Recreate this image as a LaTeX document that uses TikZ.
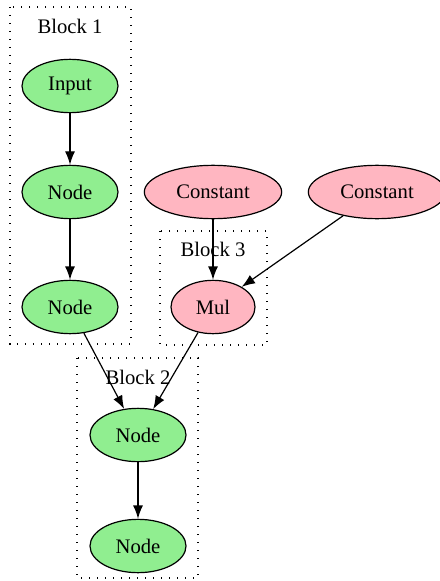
\documentclass[tikz,border=0pt]{standalone}
\usepackage{fontspec}
\setmainfont{Liberation Serif}
\usetikzlibrary{positioning, shapes.geometric, arrows.meta}

\definecolor{lightgreen}{HTML}{90EE90}
\definecolor{lightpink}{HTML}{FFB6C1}

\begin{document}
\begin{tikzpicture}[x=0.75pt, y=-0.75pt, node distance=80pt,
    font=\fontsize{15.5}{18}\selectfont]
% Define block styles
\tikzstyle{opnode} = [ellipse, draw, line width=0.9pt, fill=lightgreen,
    minimum width=72pt, minimum height=40pt, inner sep=0pt]
\tikzstyle{constnode} = [opnode, fill=lightpink, minimum width=103pt]
\tikzstyle{mulnode} = [opnode, fill=lightpink, minimum width=63pt]
\tikzstyle{cluster} = [draw, line width=0.9pt, dash pattern=on 0.9pt off 5.1pt]
\tikzstyle{line} = [draw, line width=0.9pt, -{Latex[length=10pt, width=7.5pt]}]
    \useasboundingbox (0,0) rectangle (439,581);
    % Clusters
    \draw [cluster] (10,7) rectangle (131,344);
    \draw [cluster] (160,231) rectangle (267,345);
    \draw [cluster] (77,358) rectangle (198,578);
    \node (lab1) at (70,26) {Block 1};
    \node (lab3) at (213,249) {Block 3};
    \node (lab2) at (138,377) {Block 2};
    % Place nodes
    \node [opnode] (input) at (70,86) {Input};
    \node [opnode, below of=input, node distance=79.5pt] (node1) {Node};
    \node [opnode, below of=node1, node distance=86.25pt] (node2) {Node};
    \node [constnode, right of=node1, node distance=107.25pt] (const1) {Constant};
    \node [constnode, right of=const1, node distance=123pt] (const2) {Constant};
    \node [mulnode, below of=const1, node distance=86.25pt] (mul) {Mul};
    \node [opnode] (node3) at (138,435) {Node};
    \node [opnode, below of=node3, node distance=83.25pt] (node4) {Node};
    % Edges
    \path [line] (input) -- (node1);
    \path [line] (node1) -- (node2);
    \path [line] (const1) -- (mul);
    \path [line] (const2) -- (mul);
    \path [line] (node2) -- (node3);
    \path [line] (mul) -- (node3);
    \path [line] (node3) -- (node4);
\end{tikzpicture}
\end{document}
